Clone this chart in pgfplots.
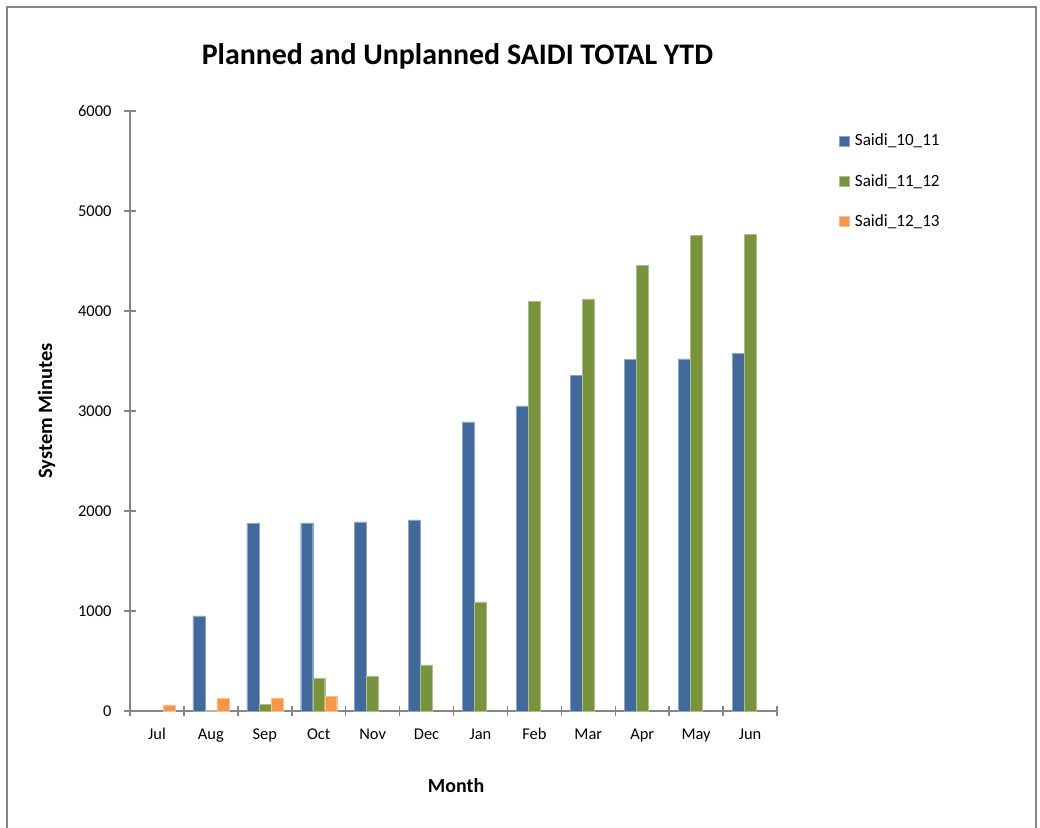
\documentclass[border=0pt]{standalone}
\usepackage{pgfplots}
\pgfplotsset{compat=1.18}
\usepackage{fontspec}
\setmainfont{Carlito}
\definecolor{cblue}{HTML}{41699C}
\definecolor{cgreen}{HTML}{77933C}
\definecolor{corange}{HTML}{F79646}
\definecolor{axgray}{HTML}{868686}
\begin{document}
\begin{tikzpicture}[x=1bp,y=1bp]
\path[use as bounding box] (0,0) rectangle (1040,828);
\draw[axgray, line width=1.5bp] (7,-10) rectangle (1036,821);
\begin{axis}[
  at={(130bp,117bp)}, anchor=south west,
  scale only axis, width=647bp, height=600bp,
  ybar, bar width=12bp,
  xmin=-0.5, xmax=11.5, ymin=0, ymax=6000,
  axis x line*=bottom, axis y line*=left,
  axis line style={axgray, line width=1.5bp},
  xtick={0,...,11},
  xticklabels={Jul,Aug,Sep,Oct,Nov,Dec,Jan,Feb,Mar,Apr,May,Jun},
  major x tick style={draw=none},
  minor xtick={-0.5,0.5,...,11.5},
  minor tick length=10bp,
  minor x tick style={axgray, line width=1.5bp},
  ytick={0,1000,...,6000},
  major tick length=12bp,
  tick align=center,
  y tick style={axgray, line width=1.5bp},
  /pgf/number format/assume math mode=true,
  /pgf/number format/1000 sep={},
  tick label style={font=\fontsize{16.5}{18}\selectfont, text=black},
  xticklabel style={yshift=-8bp},
  yticklabel style={xshift=-9bp},
  ylabel={System Minutes},
  ylabel style={font=\bfseries\fontsize{20.5}{22}\selectfont, at={(axis description cs:-0.129,0.5)}, anchor=center},
  xlabel={Month},
  xlabel style={font=\bfseries\fontsize{20}{22}\selectfont, at={(axis description cs:0.504,-0.125)}, anchor=center},
  title={Planned and Unplanned SAIDI TOTAL YTD},
  title style={font=\bfseries\fontsize{30}{33}\selectfont, at={(axis description cs:0.506,1.081)}, anchor=center},
  legend style={draw=none, at={(axis description cs:1.0955,0.966)}, anchor=north west,
    font=\fontsize{17.2}{19}\selectfont, row sep=22bp, column sep=3bp, inner sep=0pt,
    nodes={inner sep=2.5bp}},
  legend image code/.code={\fill[#1] (0bp,-5bp) rectangle (10bp,5bp);},
  clip=false,
]
\addplot[fill=cblue, draw=cblue!60!white, bar shift=-12bp] coordinates {
(1,950) (2,1875) (3,1880) (4,1890) (5,1910) (6,2890) (7,3050) (8,3355) (9,3515) (10,3520) (11,3577)};
\addplot[fill=cgreen, draw=cgreen!60!white, bar shift=0bp] coordinates {
(1,5) (2,67) (3,327) (4,347) (5,460) (6,1090) (7,4097) (8,4120) (9,4453) (10,4757) (11,4763)};
\addplot[fill=corange, draw=corange!60!white, bar shift=12bp] coordinates {
(0,60) (1,123) (2,130) (3,143)};
\legend{Saidi\_10\_11, Saidi\_11\_12, Saidi\_12\_13}
\end{axis}
\end{tikzpicture}
\end{document}
